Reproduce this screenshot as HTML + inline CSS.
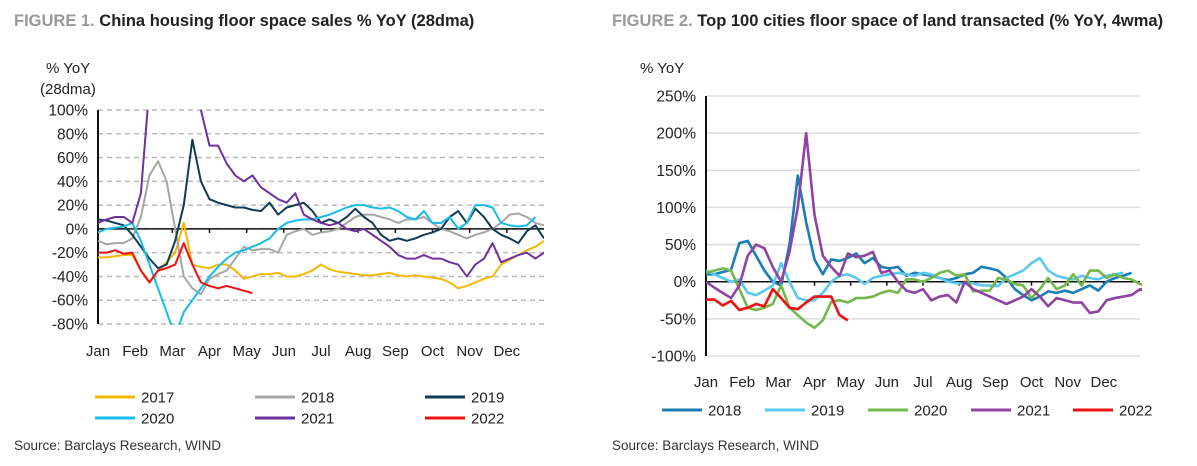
<!DOCTYPE html>
<html><head><meta charset="utf-8"><style>
body{margin:0;background:#fff;width:1197px;height:461px;overflow:hidden;font-family:"Liberation Sans",sans-serif}
svg text{font-family:"Liberation Sans",sans-serif}
</style></head><body>
<svg id="s" width="1197" height="461" xmlns="http://www.w3.org/2000/svg">
<defs>
<clipPath id="c1"><rect x="98" y="110" width="446" height="215"/></clipPath>
<clipPath id="c2"><rect x="706" y="90" width="436" height="270"/></clipPath>
</defs>
<text x="14" y="26" font-size="16.5" font-weight="bold"><tspan fill="#999">FIGURE 1.</tspan><tspan fill="#222"> China housing floor space sales % YoY (28dma)</tspan></text>
<text x="612" y="26" font-size="16.5" font-weight="bold"><tspan fill="#999">FIGURE 2.</tspan><tspan fill="#222"> Top 100 cities floor space of land transacted (% YoY, 4wma)</tspan></text>
<text x="46" y="73" font-size="15" fill="#222">% YoY</text>
<text x="40" y="94" font-size="15" fill="#222">(28dma)</text>
<text x="640" y="73" font-size="15" fill="#222">% YoY</text>
<text x="14" y="450" font-size="13.5" fill="#333">Source: Barclays Research, WIND</text>
<text x="612" y="450" font-size="13.5" fill="#333">Source: Barclays Research, WIND</text>
<g id="g1"></g><g id="g2"></g>
</svg>
<script>
const months=["Jan","Feb","Mar","Apr","May","Jun","Jul","Aug","Sep","Oct","Nov","Dec"];
const ticks1=[100,80,60,40,20,0,-20,-40,-60,-80];
const ticks2=[250,200,150,100,50,0,-50,-100];
const names1=["2017","2018","2019","2020","2021","2022"];
const s1_2017=[-24,-24,-23,-22,-22,-35,-45,-35,-28,-20,5,-30,-32,-33,-30,-30,-35,-42,-40,-38,-38,-37,-40,-40,-38,-35,-30,-34,-36,-37,-38,-39,-39,-38,-37,-39,-40,-39,-40,-41,-42,-45,-50,-48,-45,-42,-40,-30,-26,-22,-18,-15,-10];
const s1_2018=[-10,-13,-12,-12,-8,10,45,57,40,0,-40,-50,-55,-42,-38,-35,-25,-15,-18,-17,-17,-20,-5,-2,0,-5,-3,-2,0,5,10,12,12,10,8,5,8,8,10,5,0,-2,-5,-8,-5,-3,0,5,12,13,10,5,3];
const s1_2019=[8,7,5,3,-5,-15,-25,-33,-30,-10,20,75,40,25,22,20,18,18,16,15,22,12,18,20,22,15,5,8,5,10,17,10,5,-5,-10,-8,-10,-8,-5,-3,0,10,15,5,17,10,0,-5,-8,-12,-2,3,-8];
const s1_2020=[-3,0,1,2,5,-10,-30,-50,-70,-90,-70,-60,-50,-40,-32,-25,-20,-18,-15,-12,-8,0,5,7,8,8,10,12,15,18,20,20,18,17,18,15,10,8,15,5,5,10,0,5,20,20,18,5,3,2,3,10];
const s1_2021=[5,8,10,10,5,30,120,180,200,200,200,150,100,70,70,55,45,40,45,35,30,25,22,30,12,8,5,3,5,0,-2,0,-5,-10,-15,-22,-25,-25,-22,-25,-25,-28,-30,-40,-30,-25,-12,-28,-25,-22,-20,-25,-20];
const s1_2022=[-20,-20,-18,-21,-20,-35,-45,-35,-33,-30,-12,-30,-45,-48,-50,-48,-50,-52,-54];
const names2=["2018","2019","2020","2021","2022"];
const s2_2018=[10,10,13,16,52,55,35,15,0,-5,50,143,80,30,10,30,28,32,38,25,32,20,18,20,8,12,10,8,5,2,5,10,12,20,18,15,5,-10,-18,-25,-20,-13,-15,-12,-15,-10,-5,-12,0,5,8,12];
const s2_2019=[15,10,5,0,3,-15,-18,-12,-5,25,0,-22,-25,-25,-15,0,8,10,5,-3,5,8,10,12,10,8,12,10,5,0,-2,-3,-2,-5,-5,-6,5,10,15,25,32,15,8,5,3,8,5,3,8,10,12];
const s2_2020=[12,15,18,15,-10,-35,-38,-35,-30,-5,-35,-45,-55,-62,-52,-27,-25,-28,-22,-22,-20,-15,-12,-15,3,3,0,5,12,15,8,10,-13,-12,-12,5,3,-3,-5,-22,-10,5,-10,-5,10,-5,15,15,5,10,5,3,-3,-8];
const s2_2021=[0,-8,-15,-22,-5,35,50,45,20,0,40,100,200,90,35,20,8,38,33,35,40,12,15,0,-12,-15,-10,-25,-20,-18,-28,0,-10,-15,-20,-25,-30,-25,-20,-10,-20,-33,-22,-25,-28,-28,-42,-40,-25,-22,-20,-18,-10,-13];
const s2_2022=[-24,-24,-32,-26,-38,-35,-30,-33,-10,-22,-35,-37,-28,-20,-20,-20,-45,-52];

const NS="http://www.w3.org/2000/svg";
function mk(t,a,p){const e=document.createElementNS(NS,t);for(const k in a)e.setAttribute(k,a[k]);p.appendChild(e);return e;}
function chart(g,cfg){
  const y=v=>cfg.y0+(cfg.vmax-v)/(cfg.vmax-cfg.vmin)*(cfg.y1-cfg.y0);
  const x=i=>cfg.x0+i*(cfg.x1-cfg.x0)/52;
  cfg.ticks.forEach(t=>{
    const l=mk("line",{x1:cfg.x0,x2:cfg.x1,y1:y(t),y2:y(t),stroke:cfg.grid,"stroke-width":1.5,"stroke-dasharray":cfg.dash},g);
    
    
    const tx=mk("text",{x:cfg.x0-10,y:y(t)+5.5,"text-anchor":"end","font-size":15.5,fill:"#222"},g);
    tx.textContent=t+"%";
    
    
  });
  const ax=mk("line",{x1:cfg.x0,x2:cfg.x0,y1:cfg.y0,y2:cfg.y1,stroke:"#111","stroke-width":2},g);
  
  
  const zx=mk("line",{x1:cfg.x0,x2:cfg.x1,y1:y(0),y2:y(0),stroke:"#111","stroke-width":1.5},g);
  
  
  months.forEach((m,i)=>{
    const mx=cfg.x0+i*(cfg.x1-cfg.x0)/12;
    const tk=mk("line",{x1:mx,x2:mx,y1:y(0),y2:y(0)+4,stroke:"#111","stroke-width":1.5},g);
    
    
    const tx=mk("text",{x:mx,y:cfg.ly,"text-anchor":"middle","font-size":15,fill:"#222"},g);
    tx.textContent=m;
    
    
  });
  cfg.series.forEach((s,k)=>{
    const p=mk("polyline",{points:s.map((v,i)=>x(i)+","+y(v)).join(" "),fill:"none",stroke:cfg.colors[k],"stroke-width":cfg.sw,"stroke-linejoin":"round","clip-path":cfg.clip},g);
    
    
  });
  cfg.legend.forEach((L,k)=>{
    const l=mk("line",{x1:L[0],x2:L[0]+40,y1:L[1],y2:L[1],stroke:cfg.colors[k],"stroke-width":3},g);
    
    
    const t=mk("text",{x:L[0]+(cfg.lgap),y:L[1]+5.5,"font-size":15,fill:"#222"},g);
    t.textContent=cfg.names[k];
    
    
  });
}
chart(document.getElementById("g1"),{x0:98,x1:544,y0:110,y1:324,vmax:100,vmin:-80,ticks:ticks1,grid:"#bbb",dash:"5,4",ly:356,sw:2,clip:"url(#c1)",
  series:[s1_2017,s1_2018,s1_2019,s1_2020,s1_2021,s1_2022],names:names1,
  colors:["#f5b800","#a6a6a6","#0f3b57","#16bde8","#7030a0","#ee1111"],
  legend:[[95,397],[255,397],[425,397],[95,418],[255,418],[425,418]],lgap:46});
chart(document.getElementById("g2"),{x0:706,x1:1140,y0:96,y1:356,vmax:250,vmin:-100,ticks:ticks2,grid:"#ddd",dash:"none",ly:387,sw:2.6,clip:"url(#c2)",
  series:[s2_2018,s2_2019,s2_2020,s2_2021,s2_2022],names:names2,
  colors:["#1a7db5","#5ac8f0","#72b84a","#8e44a0","#ee1111"],
  legend:[[662,410],[765,410],[868,410],[971,410],[1073,410]],lgap:46});
</script>
</body></html>
